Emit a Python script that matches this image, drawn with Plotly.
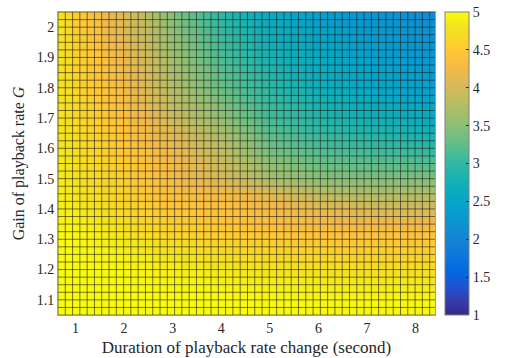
import numpy as np
import plotly.graph_objects as go

# ---- data ----
duration = [0.6, 1, 1.5, 2, 2.5, 3, 4, 5, 6, 7, 8, 8.4]          # x: seconds
gain = [1.05, 1.1, 1.2, 1.3, 1.35, 1.4, 1.45, 1.5, 1.6, 1.7, 1.8, 1.9, 2.0, 2.05]  # y: G

z_105 = [5.00, 5.00, 5.00, 5.00, 5.00, 5.00, 5.00, 4.98, 4.97, 4.97, 4.97, 4.97]
z_110 = [5.00, 5.00, 5.00, 5.00, 5.00, 5.00, 5.00, 4.98, 4.97, 4.97, 4.97, 4.97]
z_120 = [5.00, 5.00, 5.00, 4.97, 4.93, 4.90, 4.85, 4.80, 4.78, 4.75, 4.75, 4.75]
z_130 = [5.00, 4.97, 4.90, 4.85, 4.78, 4.70, 4.60, 4.52, 4.47, 4.45, 4.45, 4.45]
z_135 = [4.96, 4.92, 4.85, 4.75, 4.65, 4.55, 4.45, 4.35, 4.30, 4.25, 4.25, 4.25]
z_140 = [4.92, 4.87, 4.78, 4.65, 4.55, 4.45, 4.40, 4.30, 4.15, 4.05, 4.00, 4.00]
z_145 = [4.90, 4.83, 4.70, 4.58, 4.45, 4.35, 4.30, 4.10, 3.85, 3.75, 3.75, 3.75]
z_150 = [4.88, 4.80, 4.65, 4.55, 4.40, 4.30, 4.05, 3.70, 3.50, 3.45, 3.45, 3.45]
z_160 = [4.85, 4.75, 4.60, 4.45, 4.33, 4.20, 3.85, 3.35, 3.15, 3.05, 2.98, 2.95]
z_170 = [4.83, 4.70, 4.52, 4.38, 4.20, 3.95, 3.55, 3.10, 2.90, 2.75, 2.65, 2.60]
z_180 = [4.82, 4.65, 4.45, 4.30, 4.05, 3.75, 3.30, 2.95, 2.72, 2.55, 2.42, 2.38]
z_190 = [4.83, 4.60, 4.40, 4.20, 3.95, 3.62, 3.15, 2.80, 2.58, 2.42, 2.30, 2.27]
z_200 = [4.85, 4.57, 4.33, 4.10, 3.85, 3.50, 3.00, 2.65, 2.45, 2.30, 2.20, 2.17]
z_205 = [4.85, 4.55, 4.30, 4.05, 3.80, 3.45, 2.95, 2.60, 2.40, 2.25, 2.15, 2.12]

z_rows = [z_105, z_110, z_120, z_130, z_135, z_140, z_145, z_150,
          z_160, z_170, z_180, z_190, z_200, z_205]

x_ticks = [1, 2, 3, 4, 5, 6, 7, 8]
y_ticks = [1.1, 1.2, 1.3, 1.4, 1.5, 1.6, 1.7, 1.8, 1.9, 2.0]
y_ticktext = ["1.1", "1.2", "1.3", "1.4", "1.5", "1.6", "1.7", "1.8", "1.9", "2"]
cb_ticks = [1, 1.5, 2, 2.5, 3, 3.5, 4, 4.5, 5]
cb_ticktext = ["1", "1.5", "2", "2.5", "3", "3.5", "4", "4.5", "5"]

# ---- style ----
X_RANGE = [0.64, 8.4]
Y_RANGE = [1.05, 2.05]
MESH_DX = 0.15
MESH_DY = 0.025
FONT = "Liberation Serif"
TXT = "#262626"

parula_pts = [
    (0.2081, 0.1663, 0.5292), (0.2081, 0.2386, 0.6771), (0.1253, 0.3242, 0.8303),
    (0.0060, 0.4086, 0.8828), (0.0498, 0.4586, 0.8641), (0.0779, 0.5040, 0.8384),
    (0.0641, 0.5570, 0.8240), (0.0265, 0.6137, 0.8135), (0.0228, 0.6535, 0.7768),
    (0.0590, 0.6838, 0.7254), (0.1453, 0.7098, 0.6646), (0.2586, 0.7317, 0.5954),
    (0.3953, 0.7459, 0.5244), (0.5300, 0.7491, 0.4661), (0.6473, 0.7456, 0.4188),
    (0.7525, 0.7384, 0.3768), (0.8507, 0.7299, 0.3360), (0.9450, 0.7261, 0.2886),
    (0.9990, 0.7653, 0.2164), (0.9789, 0.8271, 0.1633), (0.9588, 0.8949, 0.1132),
    (0.9763, 0.9831, 0.0538)]
n = len(parula_pts)
parula = [[i / (n - 1), "rgb(%d,%d,%d)" % tuple(int(round(c * 255)) for c in p)]
          for i, p in enumerate(parula_pts)]

fig = go.Figure()
fig.add_trace(go.Heatmap(
    x=duration, y=gain, z=z_rows, zsmooth="best",
    colorscale=parula, zmin=1, zmax=5, hoverinfo="skip",
    colorbar=dict(
        thickness=24, thicknessmode="pixels", len=1, lenmode="fraction",
        x=1.026, xanchor="left", y=0.5, yanchor="middle",
        outlinecolor="#7f7f7f", outlinewidth=1,
        tickvals=cb_ticks, ticktext=cb_ticktext, ticks="inside", ticklen=3,
        tickcolor="#262626", tickfont=dict(family=FONT, size=14, color=TXT),
        xpad=0, ypad=0),
))

# mesh lines (surface facets)
mx, my = [], []
gx = np.arange(X_RANGE[0], X_RANGE[1] + 1e-9, MESH_DX)
gy = np.arange(Y_RANGE[0], Y_RANGE[1] + 1e-9, MESH_DY)
for v in gx:
    mx += [v, v, None]
    my += [Y_RANGE[0], Y_RANGE[1], None]
for v in gy:
    mx += [X_RANGE[0], X_RANGE[1], None]
    my += [v, v, None]
fig.add_trace(go.Scatter(x=mx, y=my, mode="lines", hoverinfo="skip",
                         line=dict(color="rgba(30,30,30,0.6)", width=1),
                         showlegend=False))

axis_common = dict(showgrid=False, zeroline=False, showline=True, mirror=True,
                   linecolor="#a0a0a0", linewidth=1, ticks="", automargin=False,
                   tickfont=dict(family=FONT, size=14, color=TXT))
fig.update_xaxes(range=X_RANGE, tickvals=x_ticks, **axis_common,
                 title=dict(text="Duration of playback rate change (second)",
                            font=dict(family=FONT, size=17, color=TXT), standoff=6))
fig.update_yaxes(range=Y_RANGE, tickvals=y_ticks, ticktext=y_ticktext, **axis_common,
                 title=dict(text="Gain of playback rate <i>G</i>",
                            font=dict(family=FONT, size=16, color=TXT), standoff=8))

fig.update_layout(width=506, height=358, margin=dict(l=58, r=64, t=12, b=43),
                  paper_bgcolor="white", plot_bgcolor="white", showlegend=False)

fig.write_html("out.html")
